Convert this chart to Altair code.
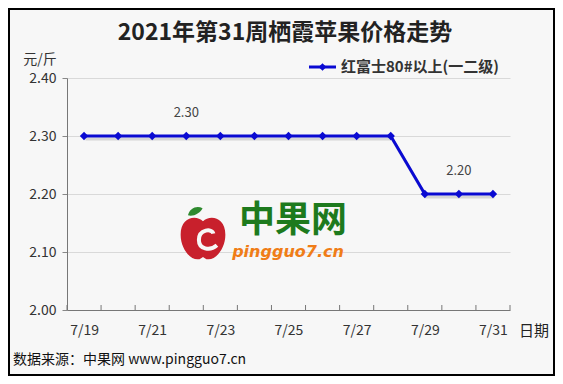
import altair as alt
import pandas as pd

# ---- data ----
dates = ["7/19", "7/20", "7/21", "7/22", "7/23", "7/24", "7/25",
         "7/26", "7/27", "7/28", "7/29", "7/30", "7/31"]
prices = [2.30, 2.30, 2.30, 2.30, 2.30, 2.30, 2.30,
          2.30, 2.30, 2.30, 2.20, 2.20, 2.20]
series_name = "红富士80#以上(一二级)"
note_dates = ["7/22", "7/30"]
note_values = [2.30, 2.20]
note_labels = ["2.30", "2.20"]
y_ticks = [2.00, 2.10, 2.20, 2.30, 2.40]
x_label_dates = dates[::2]

title_text = "2021年第31周栖霞苹果价格走势"
unit_text = "元/斤"
xname_text = "日期"
footer_text = "数据来源：中果网 www.pingguo7.cn"

W, H = 443, 232
FONT = "Noto Sans CJK SC"
BLUE = "#0a0ad2"
step = W / len(dates)

df = pd.DataFrame({"date": dates, "price": prices})
notes = pd.DataFrame({"date": note_dates, "price": note_values, "label": note_labels})
tick_df = pd.DataFrame({"date": dates})
one = alt.Chart(pd.DataFrame({"k": [0]}))

xscale = alt.Scale(type="point", domain=dates, padding=0.5)
yscale = alt.Scale(domain=[2.0, 2.4], nice=False, zero=False)

x_enc = alt.X("date:N", scale=xscale, sort=dates,
              axis=alt.Axis(values=x_label_dates, title=None, ticks=False,
                            labelAngle=0, labelPadding=13, labelFontSize=14,
                            labelColor="#333", labelFont=FONT, domainColor="#777",
                            grid=False))
y_enc = alt.Y("price:Q", scale=yscale,
              axis=alt.Axis(values=y_ticks, format=".2f", title=None,
                            tickSize=5, tickColor="#888", labelPadding=6,
                            labelFontSize=14, labelColor="#333", labelFont=FONT,
                            domainColor="#777", gridColor="#d9d9d9"))

base = alt.Chart(df)

# border around chart
border = one.mark_rect(fill=None, stroke="#000", strokeWidth=2).encode(
    x=alt.value(-58), x2=alt.value(487), y=alt.value(-69), y2=alt.value(297))

shadow = base.mark_line(color="#666", opacity=0.22, strokeWidth=3,
                        xOffset=1.5, yOffset=3).encode(x=x_enc, y=y_enc)
line = base.mark_line(color=BLUE, strokeWidth=3).encode(x=x_enc, y=y_enc)
pts = base.mark_point(shape="diamond", filled=True, color=BLUE, size=70,
                      opacity=1).encode(x=x_enc, y=y_enc)

ticks_in = alt.Chart(tick_df).mark_rule(color="#777", xOffset=-step / 2).encode(
    x=alt.X("date:N", scale=xscale, sort=dates),
    y=alt.value(H), y2=alt.value(H - 5))
tick_end = alt.Chart(tick_df.tail(1)).mark_rule(color="#777", xOffset=step / 2).encode(
    x=alt.X("date:N", scale=xscale, sort=dates),
    y=alt.value(H), y2=alt.value(H - 5))

note_text = alt.Chart(notes).mark_text(fontSize=13, color="#444", font=FONT,
                                       dy=-23, baseline="middle").encode(
    x=alt.X("date:N", scale=xscale, sort=dates),
    y=alt.Y("price:Q", scale=yscale), text="label:N")

# watermark logo
apple_path = ("M0,-0.7 C0.3,-1 1,-0.9 1,-0.1 C1,0.5 0.6,1 0.25,1 C0.1,1 0.05,0.9 0,0.9 "
              "C-0.05,0.9 -0.1,1 -0.25,1 C-0.6,1 -1,0.5 -1,-0.1 C-1,-0.9 -0.3,-1 0,-0.7 Z")
swirl_path = "M0.35,-0.3 C0.3,-0.6 -0.45,-0.55 -0.45,0.05 C-0.45,0.55 0.15,0.7 0.55,0.35"
leaf_path = "M-1,0.2 C-0.5,-0.6 0.5,-0.6 1,0 C0.5,0.5 -0.5,0.6 -1,0.2 Z"
apple = one.mark_point(shape=apple_path, filled=True, color="#c8202c", size=2000,
                       opacity=1).encode(x=alt.value(136), y=alt.value(159))
swirl = one.mark_point(shape=swirl_path, filled=False, stroke="#f7f7f7", strokeWidth=4,
                       size=1300, opacity=1).encode(x=alt.value(140), y=alt.value(161))
leaf = one.mark_point(shape=leaf_path, filled=True, color="#2f8a2f", size=260,
                      angle=340, opacity=1).encode(x=alt.value(128), y=alt.value(133))
logo_cn = one.mark_text(text="中果网", font=FONT, fontSize=36, fontWeight="bold",
                        color="#1d7a1d").encode(x=alt.value(226), y=alt.value(143))
logo_en = one.mark_text(text="pingguo7.cn", font="DejaVu Sans", fontSize=16,
                        fontWeight="bold", fontStyle="italic",
                        color="#f07d17").encode(x=alt.value(221), y=alt.value(174))

# texts
title = one.mark_text(text=title_text, font=FONT, fontSize=23, fontWeight="bold",
                      color="#222").encode(x=alt.value(218), y=alt.value(-45))
unit = one.mark_text(text=unit_text, font=FONT, fontSize=14,
                     color="#333").encode(x=alt.value(-27), y=alt.value(-18))
xname = one.mark_text(text=xname_text, font=FONT, fontSize=15,
                      color="#222").encode(x=alt.value(467), y=alt.value(253))
footer = one.mark_text(text=footer_text, font=FONT, fontSize=14, align="left",
                       color="#111").encode(x=alt.value(-54), y=alt.value(282))

# legend
leg_line = one.mark_rule(color=BLUE, strokeWidth=3).encode(
    x=alt.value(242), x2=alt.value(269), y=alt.value(-11))
leg_pt = one.mark_point(shape="diamond", filled=True, color=BLUE, size=60,
                        opacity=1).encode(x=alt.value(255.5), y=alt.value(-11))
leg_txt = one.mark_text(text=series_name, font=FONT, fontSize=15, fontWeight="bold",
                        align="left", color="#333").encode(x=alt.value(274), y=alt.value(-11))

chart = alt.layer(
    border, apple, swirl, leaf, logo_cn, logo_en,
    shadow, line, pts, ticks_in, tick_end, note_text,
    title, unit, xname, footer, leg_line, leg_pt, leg_txt
).properties(
    width=W, height=H,
    padding={"left": 59, "top": 70, "right": 45, "bottom": 66},
    autosize="none",
    background="#f7f7f7",
).configure_view(stroke=None)

chart.save("out.html", embed_options={"renderer": "svg", "actions": False})
